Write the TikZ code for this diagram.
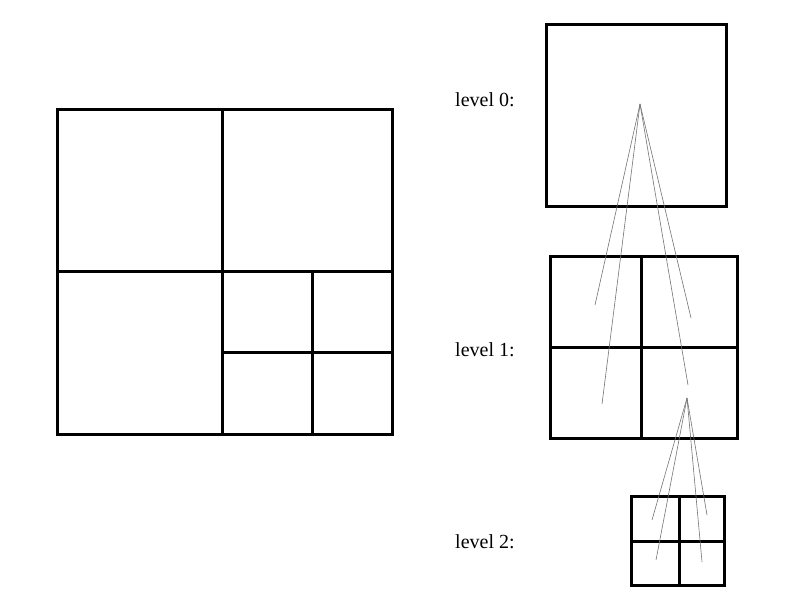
\documentclass[tikz,border=0pt]{standalone}
\usepackage{fontspec}
\setmainfont{Liberation Serif}
\tikzstyle{cell} = [
 draw=black,
 line width=3pt,
 line cap=rect
]
\tikzstyle{link} = [
 draw=black!55,
 line width=0.6pt
]
\tikzstyle{levelLabel} = [
 anchor=west,
 inner sep=0pt,
 font=\fontsize{20}{24}\selectfont
]

\begin{document}
\begin{tikzpicture}[x=1pt,y=-1pt]
  \useasboundingbox (0,0) rectangle (794,595);
  % quadtree
  \draw[cell] (57,109) rectangle (392,434);
  \draw[cell] (222,109) -- (222,434);
  \draw[cell] (57,271) -- (392,271);
  \draw[cell] (312,271) -- (312,434);
  \draw[cell] (222,352) -- (392,352);
  % level 0
  \node [levelLabel] (l0) at (455,100) {level 0:};
  \draw[cell] (546,24) rectangle (726,206);
  \coordinate (root) at (640,104);
  % level 1
  \node [levelLabel] (l1) at (455,350) {level 1:};
  \draw[cell] (550,256) rectangle (737,438);
  \draw[cell] (641,256) -- (641,438);
  \draw[cell] (550,347) -- (737,347);
  \coordinate (a1) at (595,305);
  \coordinate (a2) at (602,404);
  \coordinate (a3) at (691,318);
  \coordinate (a4) at (688,385);
  \coordinate (mid) at (687,398);
  % level 2
  \node [levelLabel] (l2) at (455,542) {level 2:};
  \draw[cell] (631,496) rectangle (724,585);
  \draw[cell] (679,496) -- (679,585);
  \draw[cell] (631,541) -- (724,541);
  \coordinate (b1) at (652,520);
  \coordinate (b2) at (656,560);
  \coordinate (b3) at (707,515);
  \coordinate (b4) at (702,562);
  % links
  \foreach \t in {a1,a2,a3,a4}
    \draw[link] (root) -- (\t);
  \foreach \t in {b1,b2,b3,b4}
    \draw[link] (mid) -- (\t);
\end{tikzpicture}
\end{document}
